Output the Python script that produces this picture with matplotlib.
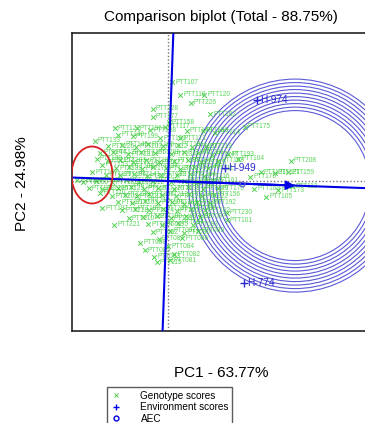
import numpy as np
import matplotlib
matplotlib.use("Agg")
import matplotlib.pyplot as plt
from matplotlib.patches import Ellipse, Circle
from matplotlib.lines import Line2D

plt.rcParams["font.family"] = ["Liberation Sans", "DejaVu Sans"]

title = "Comparison biplot (Total - 88.75%)"
xlabel = "PC1 - 63.77%"
ylabel = "PC2 - 24.98%"

# environment scores
env_names = ["H-974", "H-949", "H-774"]
env_pc1 = [8.9, 5.7, 7.6]
env_pc2 = [8.1, 1.3, -10.2]

# genotype scores
geno_names = [
    "PTT107", "PTT118", "PTT120", "PTT226", "PTT228", "PTT177", "PTT158", "PTT175", "PTT162", "PTT104",
    "PTT208", "PTT122", "PTT196", "PTT188", "PTT117", "PTT148", "PTT186", "PTT140", "PTT199", "PTT150",
    "PTT171", "PTT214", "PTT133", "PTT126", "PTT145", "PTT203", "PTT160", "PTT112", "PTT191", "PTT137",
    "PTT219", "PTT144", "PTT129", "PTT181", "PTT155", "PTT209", "PTT134", "PTT166", "PTT201", "PTT147",
    "PTT193", "PTT139", "PTT152", "PTT207", "PTT114", "PTT183", "PTT127", "PTT198", "PTT142", "PTT216",
    "PTT168", "PTT153", "PTT189", "PTT108", "PTT172", "PTT224", "PTT136", "PTT180", "PTT146", "PTT211",
    "PTT157", "PTT119", "PTT194", "PTT141", "PTT225", "PTT132", "PTT178", "PTT204", "PTT116", "PTT131",
    "PTT121", "PTT159", "PTT176", "PTT164", "PTT200", "PTT135", "PTT185", "PTT123", "PTT212", "PTT149",
    "PTT190", "PTT128", "PTT217", "PTT161", "PTT113", "PTT173", "PTT105", "PTT169", "PTT143", "PTT206",
    "PTT125", "PTT184", "PTT151", "PTT220", "PTT138", "PTT195", "PTT109", "PTT170", "PTT110", "PTT202",
    "PTT130", "PTT187", "PTT154", "PTT213", "PTT124", "PTT179", "PTT222", "PTT156", "PTT197", "PTT111",
    "PTT165", "PTT215", "PTT106", "PTT182", "PTT227", "PTT167", "PTT192", "PTT218", "PTT103", "PTT174",
    "PTT229", "PTT163", "PTT205", "PTT102", "PTT230", "PTT101", "PTT210", "PTT221", "PTT223", "PTT100",
    "PTT099", "PTT098", "PTT097", "PTT096", "PTT095", "PTT094", "PTT093", "PTT092", "PTT091", "PTT090",
    "PTT089", "PTT088", "PTT087", "PTT086", "PTT085", "PTT084", "PTT083", "PTT082", "PTT115", "PTT081",
]
geno_pc1 = [
    0.4, 1.2, 3.6, 2.3, -1.5, -1.5, 0.1, 7.7, 4.2, 7.0,
    12.3, -5.3, -3.1, -1.8, -0.3, 1.9, 3.5, -5.0, -3.5, -0.8,
    1.2, 4.7, -7.3, -6.0, -4.6, -3.2, -2.0, -0.5, 1.0, 2.4,
    3.8, -6.8, -5.5, -4.0, -2.7, -1.3, 0.3, 1.6, 3.0, 4.4,
    6.0, -7.1, -6.0, -4.8, -3.5, -2.2, -0.9, 0.6, 2.0, 3.3,
    5.0, -6.6, -5.2, -3.9, -2.6, -1.5, -0.2, 1.2, 2.6, 4.0,
    -7.6, -6.2, -4.8, -3.4, -2.1, -0.7, 0.9, 2.2, 3.6, 9.3,
    10.7, 12.0, 8.2, -9.1, -8.5, -7.2, -5.6, -4.2, -2.9, -1.5,
    0.3, 1.6, 3.0, 4.5, 12.4, 11.0, 9.8, 8.6, -7.9, -6.6,
    -5.0, -3.7, -2.4, -1.0, 0.6, 2.0, 3.5, 5.0, -6.8, -5.6,
    -4.3, -3.1, -1.9, -0.6, 0.8, 2.1, 3.4, 4.6, -6.6, -5.0,
    -3.6, -2.3, -1.0, 0.4, 1.6, 2.9, 4.2, -4.6, -3.3, -1.9,
    -0.5, 0.9, 2.3, 3.7, 5.9, 5.9, -3.9, -5.4, -2.5, -1.1,
    0.3, 1.8, 3.2, -2.0, -0.6, 1.0, 2.5, -1.5, 0.2, 1.6,
    3.0, -2.8, -0.9, 1.4, -2.3, 0.0, -1.4, 0.6, -1.1, 0.2,
]
geno_pc2 = [
    9.9, 8.6, 8.6, 7.8, 7.2, 6.4, 5.9, 5.4, 6.7, 2.2,
    2.0, 5.3, 5.3, 5.1, 5.4, 5.0, 5.0, 4.6, 4.5, 4.3,
    4.3, 4.8, 4.0, 3.5, 3.6, 3.4, 3.7, 3.5, 3.6, 3.4,
    3.5, 2.8, 2.9, 2.7, 2.9, 2.8, 2.7, 2.9, 2.8, 2.6,
    2.7, 2.2, 2.0, 2.1, 1.9, 2.1, 1.9, 2.0, 2.1, 1.9,
    2.0, 1.6, 1.3, 1.4, 1.2, 1.4, 1.3, 1.2, 1.4, 1.3,
    0.9, 0.6, 0.6, 0.7, 0.5, 0.6, 0.6, 0.7, 0.5, 0.9,
    0.8, 0.9, 0.4, 0.1, -0.1, 0.0, -0.1, 0.1, -0.1, 0.0,
    -0.1, 0.0, -0.1, 0.1, -0.5, -0.9, -1.6, -0.8, -0.7, -0.8,
    -0.7, -0.6, -0.8, -0.7, -0.8, -0.6, -0.8, -0.7, -1.2, -1.5,
    -1.4, -1.5, -1.3, -1.4, -1.5, -1.3, -1.5, -1.4, -2.7, -2.1,
    -2.2, -2.0, -2.2, -2.1, -2.3, -2.1, -2.2, -2.9, -2.8, -2.9,
    -2.8, -3.0, -2.8, -2.9, -3.2, -3.9, -3.7, -4.4, -3.6, -3.5,
    -3.7, -3.5, -3.6, -4.3, -4.4, -4.2, -4.4, -5.1, -5.0, -5.2,
    -5.0, -6.2, -5.8, -5.7, -6.9, -6.5, -7.6, -7.3, -8.1, -7.9,
]

# concentric rings around the ideal environment
ring_radii = [7.5, 7.85, 8.2, 8.55, 8.9, 9.25, 9.6, 9.95, 10.3, 10.65]

green = "#3ccc3c"
blue = "#0000e6"
ring_col = "#5a5ad8"

fig = plt.figure(figsize=(3.65, 4.23), dpi=100)
ax = fig.add_axes([72 / 365, 92 / 423, 298 / 365, 298 / 423])
ax.set_xlim(-9.6, 20.2)
ax.set_ylim(-15.0, 14.8)
ax.set_xticks([])
ax.set_yticks([])
for sp in ax.spines.values():
    sp.set_linewidth(1.2)
    sp.set_color("#222222")

# average environment and ideal environment
env_x = np.array(env_pc1)
env_y = np.array(env_pc2)
mean_x, mean_y = env_x.mean(), env_y.mean()
norm = np.hypot(mean_x, mean_y)
ux, uy = mean_x / norm, mean_y / norm
ideal_len = np.hypot(env_x, env_y).max()
ideal = (ux * ideal_len, uy * ideal_len)

ax.axhline(0, color="#777777", ls=(0, (1, 1.5)), lw=1.0, zorder=1)
ax.axvline(0, color="#777777", ls=(0, (1, 1.5)), lw=1.0, zorder=1)

for r in ring_radii:
    ax.add_patch(Circle(ideal, r, fill=False, ec=ring_col, lw=0.8, zorder=2))

ax.scatter(geno_pc1, geno_pc2, marker="x", color=green, s=11, lw=0.7, alpha=0.9, zorder=3)
for name, gx, gy in zip(geno_names, geno_pc1, geno_pc2):
    ax.text(gx + 0.3, gy, name, fontsize=4.7, color=green, alpha=0.85, va="center", ha="left", zorder=3)

# AEC axes
ax.axline((0, 0), (ux, uy), color=blue, lw=1.5, zorder=4)
ax.axline((0, 0), (-uy, ux), color=blue, lw=1.5, zorder=4)
ax.annotate("", xy=ideal, xytext=(0, 0),
            arrowprops=dict(arrowstyle="-|>", color=blue, lw=1.5, mutation_scale=13, shrinkA=0, shrinkB=0),
            zorder=5)
ax.plot(mean_x, mean_y, marker="o", mfc="none", mec=ring_col, ms=3.5, mew=0.9, zorder=5)

ax.scatter(env_pc1, env_pc2, marker="+", color="#2a2ad0", s=30, lw=1.0, zorder=5)
for name, ex, ey in zip(env_names, env_pc1, env_pc2):
    ax.text(ex + 0.35, ey, name, fontsize=7.3, color="#2a2ad0", va="center", ha="left", zorder=5)

ax.add_patch(Ellipse((-7.6, 0.6), 4.1, 5.7, fill=False, ec="#d42020", lw=1.3, zorder=6))

fig.text(221 / 365, 1 - 17 / 423, title, fontsize=11, ha="center", va="center")
fig.text(221 / 365, 1 - 373 / 423, xlabel, fontsize=11, ha="center", va="center")
fig.text(22 / 365, 1 - 184 / 423, ylabel, fontsize=11, ha="center", va="center", rotation=90)

handles = [
    Line2D([], [], ls="none", marker="x", color=green, ms=3.5, mew=0.6),
    Line2D([], [], ls="none", marker="+", color=blue, ms=5, mew=1.0),
    Line2D([], [], ls="none", marker="o", mfc="none", mec=blue, ms=3.5, mew=1.0),
]
fig.legend(handles, ["Genotype scores", "Environment scores", "AEC"],
           loc="upper left", bbox_to_anchor=(107 / 365, 1 - 387 / 423),
           fontsize=7.2, frameon=True, fancybox=False, edgecolor="#333333",
           handlelength=1.0, handletextpad=2.0, labelspacing=0.15,
           borderpad=0.35, borderaxespad=0)

fig.savefig("out.png", dpi=100)
